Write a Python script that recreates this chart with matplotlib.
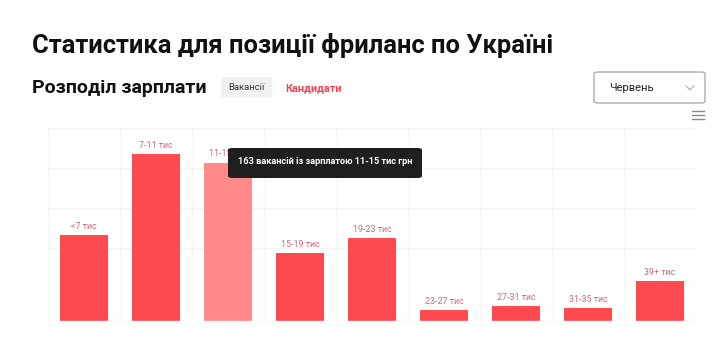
import numpy as np
import matplotlib.pyplot as plt
from matplotlib.patches import FancyBboxPatch

plt.rcParams['font.family'] = ['Roboto', 'DejaVu Sans']

# дані
categories = ['<7 тис', '7-11 тис', '11-15 тис', '15-19 тис', '19-23 тис',
              '23-27 тис', '27-31 тис', '31-35 тис', '39+ тис']
counts = [88, 172, 163, 70, 85, 11, 15, 13, 41]
hover_idx = 2
tooltip_text = '163 вакансій із зарплатою 11-15 тис грн'

RED = '#ff4b4f'
RED_HOVER = '#ff8a87'
LABEL = '#c4697b'
GRID = '#f5f5f5'

fig = plt.figure(figsize=(7.2, 3.54), dpi=100)
W, H = 720, 354

def fx(px):
    return px / W

def fy(py):
    return 1 - py / H

# заголовки
fig.text(fx(32), fy(46), 'Статистика для позиції фриланс по Україні',
         fontsize=18.4, fontweight='bold', va='center', ha='left', color='#111111')
fig.text(fx(32), fy(88), 'Розподіл зарплати', fontsize=14,
         fontweight='bold', va='center', ha='left', color='#111111')

# перемикач Вакансії / Кандидати
fig.patches.append(FancyBboxPatch((fx(221), fy(98)), fx(51), (98 - 77) / H,
                                  boxstyle='round,pad=0,rounding_size=0.004',
                                  transform=fig.transFigure, fc='#f1f1f1', ec='none'))
fig.text(fx(246.5), fy(88), 'Вакансії', fontsize=6.8, va='center', ha='center', color='#333333')
fig.text(fx(285), fy(88), 'Кандидати', fontsize=7.8, fontweight='bold',
         va='center', ha='left', color='#e8475a')

# випадаючий список
fig.patches.append(FancyBboxPatch((fx(594), fy(103)), fx(111), (103 - 72) / H,
                                  boxstyle='round,pad=0,rounding_size=0.005',
                                  transform=fig.transFigure, fc='white', ec='#9a9a9a', lw=0.8))
fig.text(fx(609), fy(88), 'Червень', fontsize=8, va='center', ha='left', color='#222222')
fig.lines.append(plt.Line2D([fx(686), fx(690), fx(694)], [fy(86), fy(90), fy(86)],
                            transform=fig.transFigure, color='#aaaaaa', lw=0.8))
for yy in (111, 115, 119):
    fig.lines.append(plt.Line2D([fx(692), fx(704)], [fy(yy), fy(yy)],
                                transform=fig.transFigure, color='#888888', lw=1.0))

# графік
ax_left, ax_right = 48, 696
ax_top, ax_bottom = 127.7, 321
ax = fig.add_axes([fx(ax_left), fy(ax_bottom), fx(ax_right - ax_left), (ax_bottom - ax_top) / H])

x = np.arange(len(categories))
colors = [RED_HOVER if i == hover_idx else RED for i in range(len(categories))]
bars = ax.bar(x, counts, width=0.68, color=colors, zorder=3)

ymax = 163 / (158.4 / (ax_bottom - ax_top))
ax.set_xlim(-0.5, len(categories) - 0.5)
ax.set_ylim(0, ymax)

# сітка
for k in range(4):
    ax.axhline(ymax - k * ymax * 40 / (ax_bottom - ax_top), color=GRID, lw=1, zorder=1)
for b in np.arange(len(categories) + 1) - 0.5:
    ax.axvline(b, color=GRID, lw=1, zorder=1)
ax.axhline(0, color='#e8e8e8', lw=1, zorder=4)

for i, (c, v) in enumerate(zip(categories, counts)):
    ax.annotate(c, (i, v), xytext=(0, 3), textcoords='offset points',
                ha='center', va='bottom', fontsize=6.4, color=LABEL, zorder=5)

ax.set_xticks([])
ax.set_yticks([])
for s in ax.spines.values():
    s.set_visible(False)
ax.patch.set_alpha(0)

# підказка
fig.patches.append(FancyBboxPatch((fx(228), fy(178)), fx(194), (178 - 148) / H,
                                  boxstyle='round,pad=0,rounding_size=0.006',
                                  transform=fig.transFigure, fc='#1f1f1f', ec='none', zorder=10))
fig.text(fx(325), fy(162), tooltip_text, fontsize=6.6, fontweight='bold',
         va='center', ha='center', color='white', zorder=11)

fig.savefig('out.png', dpi=100, facecolor='white')
